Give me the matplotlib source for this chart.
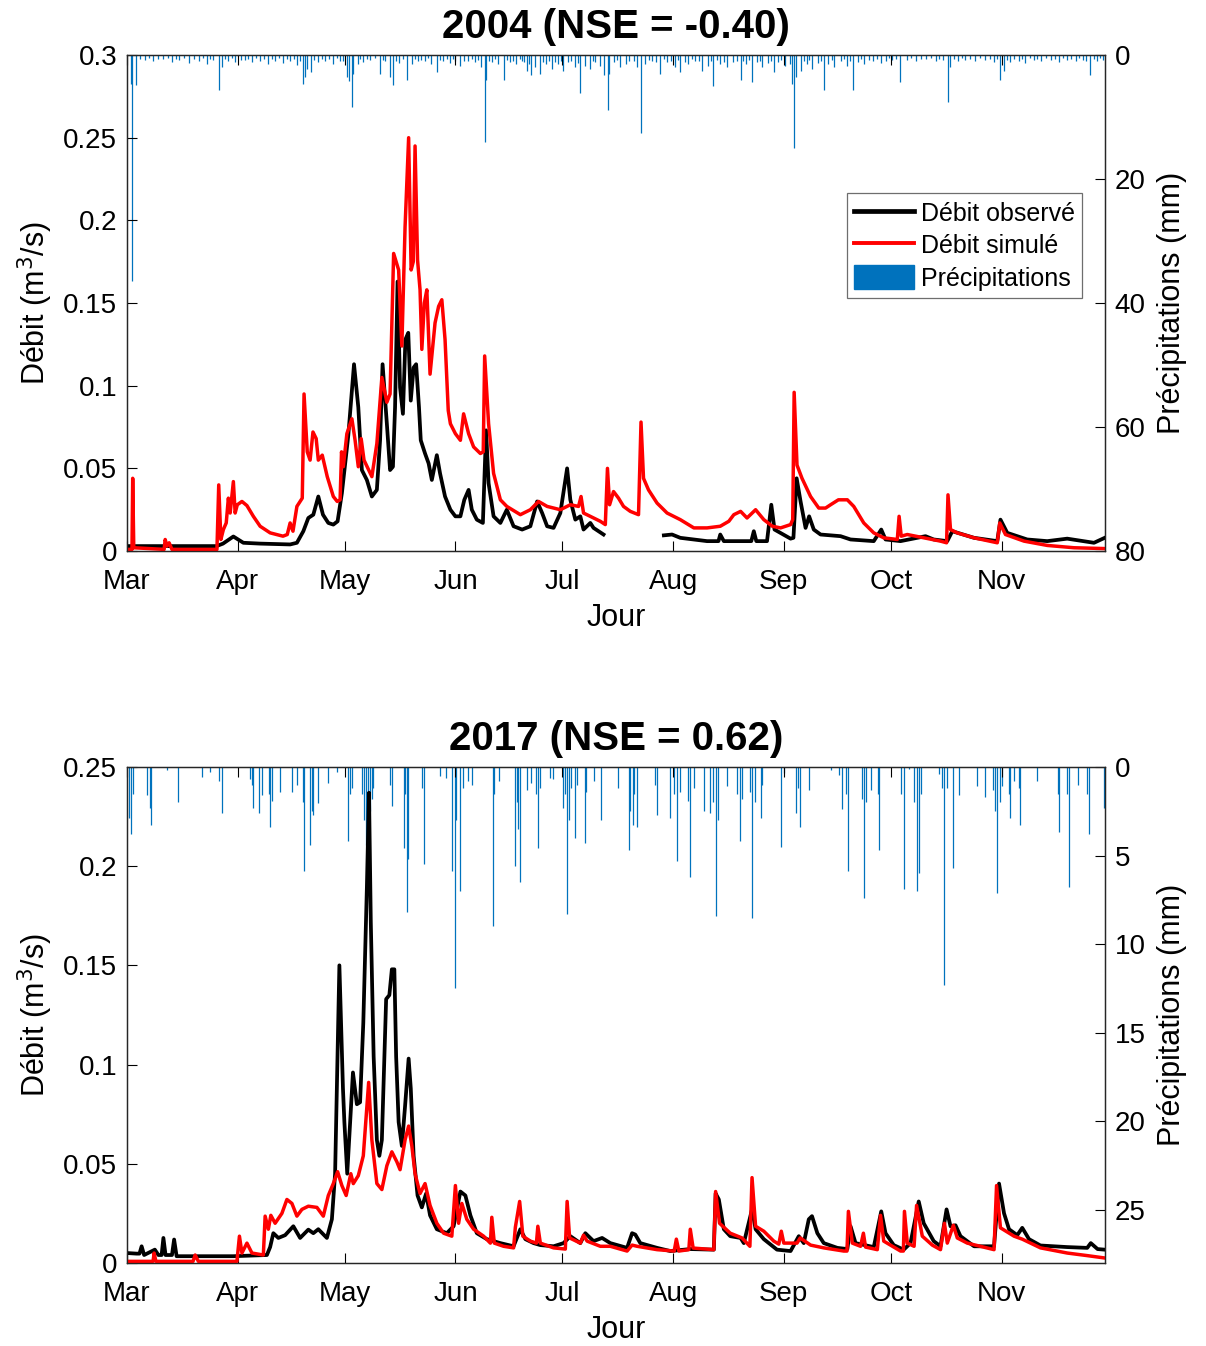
import numpy as np
import matplotlib
matplotlib.use('Agg')
import matplotlib.pyplot as plt
from matplotlib.lines import Line2D
from matplotlib.patches import Patch
from matplotlib.ticker import FuncFormatter

plt.rcParams['font.family'] = ['Liberation Sans', 'DejaVu Sans']

# jours comptés depuis le 1er mars, débit en m3/s, pluie en mm
months = ['Mar', 'Apr', 'May', 'Jun', 'Jul', 'Aug', 'Sep', 'Oct', 'Nov']

obs04 = np.array([
    (0.0, 0.003), (25.1, 0.003), (26.9, 0.0045), (29.8, 0.0088), (32.6, 0.005), (37.3, 0.0045),
    (45.7, 0.004), (47.6, 0.005), (49.4, 0.012), (50.8, 0.02), (52.2, 0.022), (53.6, 0.033),
    (54.9, 0.022), (56.4, 0.017), (57.8, 0.016), (59.0, 0.018), (60.2, 0.035), (62.0, 0.07),
    (63.6, 0.113), (64.8, 0.087), (65.8, 0.049), (67.2, 0.043), (68.6, 0.033), (70.0, 0.037),
    (70.9, 0.067), (71.6, 0.113), (72.8, 0.077), (73.7, 0.049), (74.5, 0.051), (75.1, 0.087),
    (75.8, 0.163), (76.5, 0.099), (77.3, 0.083), (78.0, 0.128), (78.8, 0.132), (79.5, 0.091),
    (80.3, 0.111), (81.0, 0.113), (81.8, 0.087), (82.3, 0.067), (83.5, 0.059), (84.5, 0.053),
    (85.4, 0.043), (86.8, 0.058), (87.7, 0.047), (89.1, 0.033), (90.6, 0.025), (92.0, 0.021),
    (93.4, 0.021), (94.5, 0.031), (95.7, 0.037), (96.6, 0.025), (98.0, 0.019), (99.7, 0.017),
    (100.6, 0.073), (101.3, 0.041), (102.7, 0.021), (104.6, 0.017), (106.4, 0.025), (108.3, 0.015),
    (110.7, 0.013), (113.0, 0.015), (114.9, 0.030), (116.3, 0.023), (117.7, 0.015), (119.5, 0.014),
    (121.4, 0.023), (123.3, 0.050), (124.2, 0.031), (125.6, 0.019), (127.0, 0.021), (127.9, 0.013),
    (129.8, 0.017), (130.7, 0.014), (133.5, 0.010), (142.0, np.nan), (150.4, 0.0095), (152.7, 0.010),
    (155.0, 0.008), (162.5, 0.006), (165.7, 0.006), (166.2, 0.010), (167.2, 0.006), (171.4, 0.006),
    (174.9, 0.006), (175.6, 0.012), (176.3, 0.006), (179.3, 0.006), (180.5, 0.028), (181.4, 0.013),
    (185.9, 0.0075), (186.7, 0.008), (187.6, 0.044), (188.7, 0.030), (190.1, 0.014), (191.1, 0.021),
    (192.4, 0.013), (194.3, 0.010), (199.9, 0.009), (202.7, 0.007), (209.2, 0.006), (211.3, 0.013),
    (212.5, 0.007), (216.7, 0.006), (223.7, 0.009), (226.0, 0.007), (229.8, 0.006), (231.2, 0.012),
    (237.3, 0.008), (243.8, 0.006), (244.7, 0.019), (246.6, 0.011), (252.2, 0.007), (257.8, 0.006),
    (263.4, 0.0075), (270.9, 0.005), (273.9, 0.008),
])

sim04 = np.array([
    (0.0, 0.001), (1.4, 0.001), (1.6, 0.044), (1.9, 0.002), (10.4, 0.001), (10.7, 0.007),
    (11.2, 0.003), (11.8, 0.005), (12.6, 0.001), (25.2, 0.001), (25.7, 0.040), (26.3, 0.007),
    (27.0, 0.013), (27.8, 0.017), (28.4, 0.032), (28.9, 0.023), (29.8, 0.042), (30.3, 0.023),
    (30.9, 0.028), (32.2, 0.030), (33.6, 0.0275), (35.4, 0.021), (37.3, 0.015), (40.1, 0.011),
    (43.7, 0.009), (44.9, 0.010), (45.7, 0.017), (46.5, 0.012), (47.6, 0.027), (48.5, 0.030),
    (49.1, 0.032), (49.6, 0.095), (50.5, 0.060), (51.3, 0.055), (52.1, 0.072), (53.0, 0.068),
    (53.6, 0.055), (54.7, 0.058), (56.1, 0.045), (57.8, 0.033), (58.9, 0.030), (59.7, 0.031),
    (60.1, 0.060), (60.6, 0.051), (61.6, 0.071), (63.0, 0.080), (63.9, 0.067), (64.8, 0.051),
    (65.6, 0.068), (66.4, 0.055), (68.6, 0.045), (70.0, 0.065), (71.4, 0.105), (72.8, 0.090),
    (73.7, 0.095), (74.7, 0.180), (76.1, 0.170), (77.0, 0.124), (77.9, 0.196), (78.9, 0.250),
    (79.6, 0.170), (80.2, 0.175), (80.7, 0.245), (81.4, 0.176), (82.1, 0.158), (82.6, 0.122),
    (83.3, 0.150), (84.0, 0.158), (84.9, 0.107), (86.3, 0.138), (87.3, 0.148), (88.2, 0.152),
    (89.1, 0.128), (90.0, 0.085), (90.6, 0.077), (92.0, 0.071), (93.4, 0.067), (94.3, 0.083),
    (95.7, 0.071), (97.1, 0.063), (99.0, 0.059), (99.8, 0.060), (100.2, 0.118), (101.3, 0.077),
    (102.7, 0.047), (104.6, 0.031), (106.4, 0.027), (110.2, 0.022), (113.0, 0.025), (115.3, 0.030),
    (117.7, 0.027), (121.4, 0.025), (124.2, 0.028), (126.5, 0.027), (127.2, 0.033), (127.9, 0.023),
    (129.8, 0.021), (132.6, 0.018), (134.0, 0.016), (134.6, 0.050), (135.2, 0.028), (136.3, 0.036),
    (137.7, 0.032), (139.1, 0.027), (141.0, 0.024), (143.3, 0.022), (144.0, 0.078), (144.7, 0.044),
    (146.1, 0.037), (148.5, 0.029), (151.3, 0.023), (155.0, 0.019), (158.8, 0.014), (162.5, 0.014),
    (166.2, 0.015), (168.6, 0.018), (170.0, 0.022), (171.9, 0.024), (173.7, 0.020), (176.1, 0.025),
    (178.4, 0.019), (180.8, 0.015), (183.1, 0.014), (185.9, 0.016), (186.5, 0.019), (186.9, 0.096),
    (187.7, 0.052), (189.1, 0.044), (191.5, 0.033), (193.8, 0.026), (195.7, 0.026), (197.1, 0.028),
    (199.3, 0.031), (201.8, 0.031), (203.6, 0.027), (206.4, 0.017), (209.2, 0.011), (212.0, 0.008),
    (215.8, 0.007), (216.3, 0.021), (216.9, 0.009), (218.6, 0.010), (223.2, 0.008), (227.9, 0.006),
    (229.6, 0.005), (230.0, 0.034), (230.7, 0.013), (232.6, 0.011), (237.3, 0.008), (243.8, 0.005),
    (244.5, 0.017), (246.1, 0.010), (251.3, 0.006), (257.8, 0.0034), (265.3, 0.002), (273.9, 0.0015),
])

rain04 = np.array([
    (1.1, 4.6), (1.5, 36.5), (2.5, 4.8), (5.0, 0.8), (7.3, 1.0), (10.1, 0.7), (12.6, 1.2), (14.6, 0.8),
    (17.4, 1.3), (20.2, 0.9), (22.4, 1.5), (24.1, 0.8), (25.9, 5.6), (26.6, 2.0), (28.3, 1.0),
    (30.3, 1.2), (33.1, 0.8), (35.0, 1.1), (37.3, 0.9), (39.5, 1.4), (41.5, 1.0), (43.7, 1.3),
    (45.7, 1.0), (47.7, 1.6), (49.3, 4.6), (49.9, 3.5), (50.5, 2.2), (51.6, 2.7), (53.5, 1.2),
    (55.5, 0.9), (57.8, 1.5), (59.7, 1.0), (61.7, 3.5), (62.2, 4.2), (63.0, 8.3), (63.4, 3.0),
    (64.8, 1.5), (66.2, 1.2), (68.1, 0.8), (70.9, 3.0), (72.3, 1.0), (73.7, 3.5), (74.6, 4.8),
    (76.3, 1.3), (78.4, 4.0), (79.9, 1.5), (81.6, 1.0), (83.5, 0.9), (85.2, 1.5), (86.8, 2.7),
    (88.6, 1.0), (90.6, 1.3), (92.0, 0.9), (93.4, 1.8), (95.6, 1.0), (97.6, 1.2), (99.2, 2.0),
    (100.2, 14.0), (100.6, 4.0), (102.3, 1.1), (104.0, 1.5), (105.5, 4.0), (107.4, 1.2), (109.1, 1.5),
    (110.7, 1.0), (112.1, 2.5), (113.3, 3.2), (114.4, 2.0), (115.8, 3.0), (117.5, 1.5), (119.1, 2.3),
    (120.8, 1.5), (122.2, 2.5), (123.6, 1.2), (125.6, 2.0), (127.0, 6.2), (128.4, 1.8), (129.8, 2.3),
    (131.2, 1.2), (132.6, 1.8), (133.5, 3.2), (134.7, 8.9), (135.1, 3.0), (136.5, 1.2), (138.2, 2.0),
    (139.9, 1.5), (141.9, 1.0), (143.0, 2.0), (144.0, 12.6), (145.2, 1.5), (147.2, 1.0), (149.4, 3.0),
    (151.4, 1.2), (153.6, 2.0), (155.0, 2.8), (157.3, 1.5), (159.2, 1.0), (161.2, 2.5), (162.9, 1.8),
    (164.3, 5.0), (166.2, 1.5), (168.2, 2.0), (169.9, 1.2), (171.9, 4.0), (173.5, 1.5), (175.1, 4.3),
    (176.6, 1.2), (178.0, 2.0), (179.7, 1.3), (181.2, 2.8), (182.5, 1.2), (184.2, 1.8), (185.6, 1.5),
    (186.4, 4.6), (186.8, 15.0), (187.3, 3.5), (188.7, 2.5), (190.4, 1.5), (192.0, 2.3), (193.7, 1.3),
    (195.2, 5.6), (196.5, 1.5), (198.2, 2.0), (199.9, 1.0), (201.6, 1.8), (203.4, 5.6), (204.9, 1.2),
    (206.6, 1.5), (208.9, 1.0), (211.1, 1.3), (212.5, 1.0), (214.4, 0.8), (216.6, 4.3), (218.4, 0.8),
    (220.9, 1.0), (223.7, 0.7), (226.5, 0.9), (228.5, 0.8), (230.0, 7.5), (230.7, 2.0), (232.7, 1.0),
    (234.9, 0.8), (237.7, 1.0), (240.5, 0.8), (242.8, 1.2), (244.7, 4.0), (245.6, 2.5), (247.5, 1.2),
    (249.8, 0.9), (251.7, 1.3), (254.0, 0.8), (256.0, 1.0), (258.8, 0.8), (261.0, 1.2), (263.2, 0.8),
    (265.8, 1.0), (267.7, 0.8), (269.8, 3.2), (271.7, 1.0), (273.3, 0.8),
    # petites pluies horaires
    (3.6, 0.6), (6.2, 0.5), (8.8, 0.7), (11.4, 0.5), (13.7, 0.6), (16.0, 0.5), (18.7, 0.7), (21.3, 0.5),
    (23.2, 0.6), (27.5, 0.7), (29.4, 0.5), (31.8, 0.8), (34.0, 0.6), (36.2, 0.5), (38.4, 0.7),
    (40.6, 0.6), (42.6, 0.5), (44.7, 0.7), (46.7, 0.6), (48.6, 0.9), (52.5, 0.8), (54.6, 0.6),
    (56.7, 0.7), (58.8, 0.5), (60.6, 0.9), (65.4, 0.7), (67.2, 0.6), (69.5, 0.5), (71.6, 0.8),
    (75.5, 0.9), (77.2, 0.7), (80.7, 0.6), (82.5, 0.8), (84.3, 0.5), (87.7, 0.8), (89.6, 0.6),
    (91.3, 0.7), (94.5, 0.9), (96.6, 0.6), (98.4, 0.8), (101.4, 0.9), (103.2, 0.7), (106.5, 0.8),
    (108.2, 1.0), (110.0, 0.7), (111.3, 1.2), (112.7, 1.4), (116.6, 1.1), (118.3, 0.9), (120.0, 1.2),
    (121.5, 0.9), (124.5, 1.0), (126.3, 1.3), (130.5, 1.0), (137.3, 0.8), (140.7, 0.9), (146.2, 0.8),
    (148.3, 1.1), (150.4, 0.7), (152.5, 1.0), (154.3, 0.8), (156.2, 1.2), (158.2, 0.7), (160.2, 0.9),
    (163.6, 1.0), (165.2, 0.8), (167.2, 1.1), (170.9, 0.9), (172.7, 1.0), (174.3, 0.8), (177.3, 0.9),
    (180.5, 1.0), (183.3, 0.8), (189.6, 1.0), (191.2, 0.8), (194.5, 0.9), (197.4, 0.8), (200.8, 0.7),
    (202.5, 0.9), (205.7, 0.7), (207.8, 0.8), (210.0, 0.6), (213.5, 0.5), (215.5, 0.6), (219.7, 0.5),
    (222.3, 0.6), (225.1, 0.5), (227.5, 0.6), (231.7, 0.7), (233.8, 0.5), (236.3, 0.6), (239.1, 0.5),
    (241.7, 0.6), (243.7, 0.7), (246.5, 0.8), (248.6, 0.6), (250.7, 0.7), (252.9, 0.5), (255.0, 0.6),
    (257.4, 0.5), (260.0, 0.7), (262.1, 0.5), (264.5, 0.6), (266.8, 0.5), (268.8, 0.9), (270.8, 0.6),
    (272.5, 0.5),
])

obs17 = np.array([
    (0.0, 0.005), (2.7, 0.0047), (3.5, 0.0047), (4.1, 0.0084), (4.8, 0.004), (7.8, 0.0067),
    (8.8, 0.004), (9.7, 0.004), (10.2, 0.0126), (10.8, 0.004), (12.6, 0.004), (13.2, 0.0118),
    (13.9, 0.0034), (29.8, 0.0034), (39.2, 0.004), (40.1, 0.008), (41.0, 0.015), (42.4, 0.0126),
    (44.3, 0.014), (46.6, 0.0185), (48.5, 0.0126), (50.8, 0.0168), (52.2, 0.015), (53.6, 0.017),
    (56.0, 0.0126), (57.4, 0.022), (58.3, 0.045), (59.5, 0.150), (60.5, 0.088), (60.9, 0.071),
    (61.7, 0.045), (63.3, 0.096), (64.4, 0.080), (65.3, 0.081), (66.2, 0.121), (67.2, 0.189),
    (67.8, 0.237), (68.3, 0.172), (69.1, 0.104), (70.0, 0.062), (70.7, 0.054), (71.4, 0.062),
    (71.9, 0.091), (72.6, 0.133), (73.5, 0.135), (74.2, 0.148), (74.9, 0.148), (75.4, 0.104),
    (76.1, 0.071), (77.0, 0.059), (77.9, 0.079), (78.9, 0.103), (79.5, 0.088), (80.3, 0.054),
    (81.4, 0.034), (82.6, 0.028), (83.8, 0.035), (84.9, 0.024), (86.8, 0.017), (89.6, 0.015),
    (91.5, 0.0185), (93.4, 0.036), (94.8, 0.034), (96.2, 0.024), (98.0, 0.015), (100.8, 0.012),
    (104.6, 0.010), (108.3, 0.0084), (110.2, 0.017), (111.6, 0.012), (113.9, 0.010), (115.8, 0.009),
    (119.5, 0.0084), (122.3, 0.010), (124.2, 0.0135), (127.0, 0.010), (128.4, 0.015), (130.7, 0.011),
    (133.1, 0.0126), (135.4, 0.010), (140.1, 0.0076), (141.5, 0.015), (142.4, 0.0143), (143.8, 0.010),
    (148.5, 0.0076), (152.2, 0.006), (157.8, 0.007), (164.4, 0.0067), (164.9, 0.035), (165.8, 0.032),
    (167.2, 0.017), (169.0, 0.0135), (171.9, 0.0126), (172.8, 0.010), (175.1, 0.027), (176.1, 0.017),
    (178.4, 0.012), (182.1, 0.0067), (185.9, 0.006), (188.2, 0.0135), (189.6, 0.010), (191.0, 0.022),
    (191.9, 0.0236), (193.4, 0.015), (195.2, 0.010), (199.0, 0.0076), (201.8, 0.007), (202.7, 0.0185),
    (204.1, 0.010), (209.2, 0.008), (211.3, 0.026), (212.5, 0.015), (214.8, 0.009), (217.6, 0.0067),
    (219.5, 0.010), (221.8, 0.031), (223.2, 0.020), (226.0, 0.011), (227.9, 0.0084), (229.6, 0.027),
    (230.7, 0.0185), (232.1, 0.019), (233.5, 0.0135), (237.3, 0.0084), (242.9, 0.0084), (244.3, 0.040),
    (245.7, 0.025), (247.1, 0.017), (249.4, 0.014), (250.8, 0.0177), (252.7, 0.012), (255.9, 0.0088),
    (263.4, 0.008), (269.0, 0.0076), (270.0, 0.010), (271.9, 0.007), (273.9, 0.0067),
])

sim17 = np.array([
    (0.0, 0.0008), (7.3, 0.0008), (7.6, 0.005), (8.1, 0.0008), (18.5, 0.0008), (19.1, 0.004),
    (20.0, 0.0008), (30.8, 0.0008), (31.5, 0.0135), (32.2, 0.005), (33.6, 0.010), (35.0, 0.005),
    (38.2, 0.004), (38.7, 0.0236), (39.6, 0.017), (40.3, 0.024), (41.5, 0.020), (43.4, 0.025),
    (44.8, 0.032), (46.2, 0.030), (47.6, 0.0236), (49.0, 0.027), (50.8, 0.0286), (53.2, 0.028),
    (55.0, 0.0236), (56.4, 0.034), (57.8, 0.040), (59.0, 0.046), (60.2, 0.039), (61.4, 0.034),
    (62.7, 0.045), (63.4, 0.040), (64.8, 0.044), (66.2, 0.054), (67.7, 0.091), (68.6, 0.062),
    (70.0, 0.040), (71.4, 0.037), (72.8, 0.049), (74.2, 0.056), (75.6, 0.051), (76.5, 0.047),
    (77.9, 0.062), (78.9, 0.069), (79.8, 0.059), (80.7, 0.045), (82.1, 0.035), (83.5, 0.040),
    (84.9, 0.029), (86.8, 0.020), (88.7, 0.015), (91.0, 0.0135), (92.0, 0.039), (92.9, 0.020),
    (93.8, 0.030), (95.2, 0.022), (97.1, 0.017), (99.9, 0.0135), (101.8, 0.010), (102.2, 0.023),
    (102.9, 0.010), (105.5, 0.0084), (108.3, 0.0076), (108.8, 0.018), (110.0, 0.031), (110.9, 0.0135),
    (113.0, 0.011), (114.7, 0.010), (115.1, 0.0185), (115.8, 0.010), (119.5, 0.0076), (122.8, 0.007),
    (123.3, 0.031), (124.0, 0.0126), (127.0, 0.010), (127.9, 0.014), (128.9, 0.011), (132.6, 0.0084),
    (135.4, 0.0084), (140.1, 0.006), (141.5, 0.009), (142.9, 0.0084), (148.5, 0.0067), (153.3, 0.006),
    (153.9, 0.012), (154.6, 0.006), (157.4, 0.0067), (157.8, 0.017), (158.6, 0.0075), (164.4, 0.0067),
    (164.9, 0.036), (166.0, 0.020), (169.0, 0.015), (172.3, 0.0126), (174.5, 0.0084), (175.1, 0.043),
    (176.1, 0.0185), (178.4, 0.016), (181.2, 0.011), (182.6, 0.0095), (183.3, 0.016), (184.0, 0.010),
    (187.7, 0.010), (188.6, 0.0126), (191.5, 0.009), (195.2, 0.0076), (200.8, 0.006), (201.7, 0.006),
    (202.1, 0.026), (203.2, 0.010), (205.5, 0.0084), (206.3, 0.015), (206.9, 0.008), (210.2, 0.0067),
    (211.1, 0.024), (212.0, 0.011), (216.7, 0.006), (217.5, 0.006), (217.8, 0.026), (218.6, 0.010),
    (220.5, 0.0084), (221.2, 0.029), (222.8, 0.0135), (225.6, 0.009), (227.9, 0.0067), (229.0, 0.020),
    (229.8, 0.010), (231.5, 0.019), (232.6, 0.0126), (235.4, 0.010), (239.1, 0.0084), (242.9, 0.0067),
    (243.6, 0.039), (244.7, 0.0177), (248.5, 0.0135), (250.8, 0.012), (255.9, 0.0076), (263.4, 0.005),
    (269.0, 0.0037), (273.9, 0.0025),
])

rain17 = np.array([
    (0.6, 2.9), (1.1, 3.8), (1.7, 1.5), (5.6, 1.6), (6.4, 2.3), (6.7, 3.3), (11.1, 0.2), (14.4, 2.0),
    (20.9, 0.55), (23.3, 0.3), (25.8, 0.8), (26.5, 2.6), (34.5, 0.7), (35.0, 1.0), (35.3, 2.3),
    (37.1, 2.6), (37.8, 1.6), (39.8, 1.5), (40.1, 3.4), (40.6, 1.9), (42.9, 1.4), (46.2, 1.4),
    (47.6, 1.0), (49.3, 2.0), (49.6, 5.9), (51.3, 4.4), (51.9, 2.5), (52.2, 2.7), (53.6, 2.05),
    (56.4, 0.9), (58.8, 0.3), (62.0, 4.2), (62.5, 1.5), (63.0, 1.2), (65.9, 1.5), (66.4, 3.0),
    (67.0, 4.4), (67.6, 3.5), (68.1, 2.5), (68.7, 1.8), (69.0, 1.2), (73.7, 1.0), (74.2, 2.2),
    (77.7, 4.6), (77.9, 1.5), (78.4, 8.2), (78.8, 5.2), (82.7, 1.2), (83.1, 5.5), (87.7, 0.5),
    (89.4, 0.6), (91.0, 5.9), (91.8, 12.5), (92.2, 3.0), (93.2, 7.0), (94.2, 1.2), (95.6, 0.8),
    (96.7, 1.0), (102.4, 9.0), (102.9, 1.5), (104.1, 0.8), (108.8, 5.6), (109.3, 2.0), (109.6, 3.5),
    (110.2, 6.5), (112.1, 1.3), (113.3, 0.9), (114.7, 1.5), (115.1, 4.6), (115.8, 1.2), (118.6, 0.6),
    (119.4, 0.7), (122.2, 2.3), (122.8, 1.5), (123.4, 8.3), (123.9, 3.0), (124.5, 1.2), (125.6, 4.0),
    (126.2, 1.0), (128.2, 4.3), (128.7, 1.4), (130.7, 0.8), (132.8, 3.0), (137.6, 1.2), (140.5, 4.7),
    (141.0, 2.5), (141.8, 3.3), (142.1, 1.5), (142.9, 3.4), (148.0, 1.0), (148.5, 2.7), (152.2, 2.9),
    (153.3, 1.5), (154.1, 5.3), (154.8, 1.4), (157.3, 1.9), (157.8, 6.2), (158.8, 1.2), (161.6, 2.5),
    (163.3, 2.6), (164.3, 2.0), (164.9, 8.4), (165.5, 3.0), (168.0, 1.1), (171.0, 1.5), (171.7, 4.2),
    (172.4, 1.8), (174.5, 1.4), (175.1, 8.5), (175.8, 2.0), (177.5, 2.9), (178.0, 1.0), (183.1, 4.5),
    (184.0, 0.35), (187.3, 2.6), (187.9, 1.2), (188.4, 3.4), (191.0, 1.3), (197.1, 0.2), (199.4, 0.45),
    (200.4, 2.4), (201.3, 1.5), (201.9, 5.9), (205.8, 1.8), (206.4, 7.4), (206.9, 2.0), (208.5, 1.3),
    (210.3, 1.5), (210.8, 4.7), (216.8, 1.5), (217.6, 6.9), (219.2, 0.1), (220.6, 2.0), (221.2, 7.0),
    (221.8, 6.0), (222.3, 1.5), (227.4, 0.4), (228.2, 1.2), (228.8, 12.3), (229.6, 1.2), (231.4, 5.7),
    (233.1, 1.6), (238.2, 1.1), (240.5, 1.7), (242.7, 1.3), (243.1, 2.5), (243.8, 7.1), (244.5, 2.0),
    (245.2, 1.1), (247.0, 1.5), (247.5, 2.9), (248.5, 0.8), (249.8, 1.2), (250.3, 3.3), (254.8, 0.8),
    (260.9, 1.5), (261.1, 3.7), (263.2, 1.5), (263.9, 6.8), (266.4, 1.0), (268.9, 1.5), (269.5, 3.8),
    (273.7, 2.3),
])

BLUE = '#0072BD'
TICK_FS = 20
LABEL_FS = 22


def month_ticks(year):
    start = np.datetime64(f'{year}-03-01')
    firsts = np.arange(f'{year}-03', f'{year}-12', dtype='datetime64[M]').astype('datetime64[D]')
    return (firsts - start).astype(int)


def panel(rect, year, nse, obs, sim, rain, qmax, qstep, pmax, pstep, legend=False):
    ax = fig.add_axes(rect)
    ax2 = ax.twinx()
    ax.set_zorder(ax2.get_zorder() + 1)
    ax.patch.set_visible(False)

    ax2.vlines(rain[:, 0], 0, rain[:, 1], color=BLUE, lw=0.9)
    ax.plot(obs[:, 0], obs[:, 1], color='k', lw=2.7, solid_joinstyle='round')
    ax.plot(sim[:, 0], sim[:, 1], color='r', lw=2.5, solid_joinstyle='round')

    end = (np.datetime64(f'{year}-11-30') - np.datetime64(f'{year}-03-01')).astype(int)
    ax.set_xlim(0, end)
    ax.set_ylim(0, qmax)
    ax2.set_ylim(pmax, 0)

    ax.set_xticks(month_ticks(year))
    ax.set_xticklabels(months)
    ax.set_yticks(np.arange(0, qmax + qstep / 2, qstep))
    ax.yaxis.set_major_formatter(FuncFormatter(lambda v, p: '%g' % round(v, 3)))
    ax2.set_yticks(np.arange(0, pmax + 0.1, pstep))

    ax.tick_params(axis='x', direction='in', length=7, top=True, labelsize=TICK_FS, pad=13)
    ax.tick_params(axis='y', direction='in', length=7, labelsize=TICK_FS, pad=7)
    ax2.tick_params(axis='y', direction='in', length=7, labelsize=TICK_FS, pad=7)
    for a in (ax, ax2):
        for s in a.spines.values():
            s.set_linewidth(0.9)
            s.set_color('#262626')

    ax.set_xlabel('Jour', fontsize=LABEL_FS, labelpad=6)
    ax.set_ylabel('Débit (m$^3$/s)', fontsize=LABEL_FS, labelpad=6)
    ax2.set_ylabel('Précipitations (mm)', fontsize=LABEL_FS, labelpad=8)
    ax.set_title(f'{year} (NSE = {nse:.2f})', fontsize=29, fontweight='bold', pad=12)

    if legend:
        handles = [Line2D([], [], color='k', lw=3.4),
                   Line2D([], [], color='r', lw=2.8),
                   Patch(facecolor=BLUE, edgecolor=BLUE)]
        leg = ax.legend(handles, ['Débit observé', 'Débit simulé', 'Précipitations'],
                        loc='upper right', bbox_to_anchor=(0.9765, 0.722), borderaxespad=0,
                        fontsize=18, frameon=True, fancybox=False, framealpha=1,
                        handlelength=2.4, handleheight=1.1, handletextpad=0.25,
                        labelspacing=0.28, borderpad=0.3)
        leg.get_frame().set_edgecolor('#6e6e6e')
        leg.get_frame().set_linewidth(0.9)
    return ax, ax2


fig = plt.figure(figsize=(12.06, 13.46), dpi=100)
panel([0.1053, 0.5906, 0.8110, 0.3685], 2004, -0.40, obs04, sim04, rain04,
      0.3, 0.05, 80, 20, legend=True)
panel([0.1053, 0.0617, 0.8110, 0.3685], 2017, 0.62, obs17, sim17, rain17,
      0.25, 0.05, 28, 5)

fig.savefig('out.png', dpi=100)
